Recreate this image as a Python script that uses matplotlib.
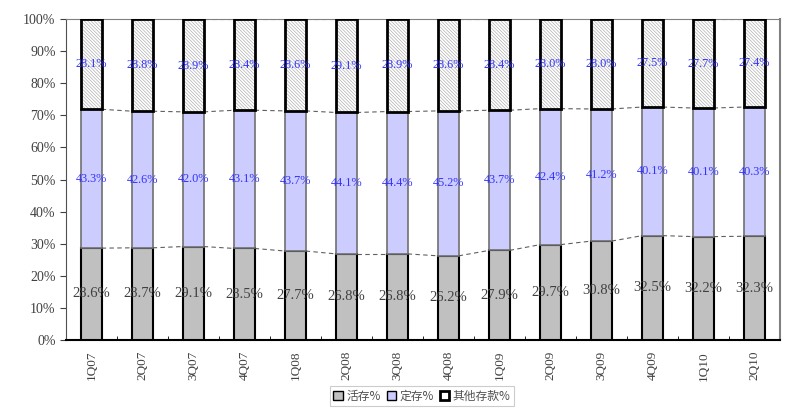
import numpy as np
import matplotlib
matplotlib.use('Agg')
import matplotlib.pyplot as plt
from matplotlib.patches import Patch
from matplotlib.ticker import FixedLocator, PercentFormatter

# data
quarters = ['1Q07', '2Q07', '3Q07', '4Q07', '1Q08', '2Q08', '3Q08',
            '4Q08', '1Q09', '2Q09', '3Q09', '4Q09', '1Q10', '2Q10']
demand = [28.6, 28.7, 29.1, 28.5, 27.7, 26.8, 26.8,
          26.2, 27.9, 29.7, 30.8, 32.5, 32.2, 32.3]
time_dep = [43.3, 42.6, 42.0, 43.1, 43.7, 44.1, 44.4,
            45.2, 43.7, 42.4, 41.2, 40.1, 40.1, 40.3]
other = [28.1, 28.8, 28.9, 28.4, 28.6, 29.1, 28.9,
         28.6, 28.4, 28.0, 28.0, 27.5, 27.7, 27.4]
names = ['活存%', '定存%', '其他存款%']

plt.rcParams['font.family'] = ['Liberation Serif', 'Noto Sans CJK SC', 'DejaVu Sans']
plt.rcParams['hatch.linewidth'] = 0.5

demand = np.array(demand)
time_dep = np.array(time_dep)
other = np.array(other)
x = np.arange(len(quarters))
w = 0.4

fig = plt.figure(figsize=(7.95, 4.17), dpi=100)
ax = fig.add_axes([0.083, 0.185, 0.898, 0.769])

# bars
ax.bar(x, demand, w, color='#C0C0C0', edgecolor='black', linewidth=1.5, zorder=3)
ax.bar(x, time_dep, w, bottom=demand, color='#CCCCFF', edgecolor='#707070',
       linewidth=1.2, zorder=3)
top_bottom = demand + time_dep
ax.bar(x, other, w, bottom=top_bottom, color='white', edgecolor='#B0B0B0',
       hatch='\\' * 10, linewidth=0, zorder=3)
ax.bar(x, other, w, bottom=top_bottom, fill=False, edgecolor='black',
       linewidth=2, zorder=4)

# series lines between bars
for level in [demand, top_bottom, top_bottom + other]:
    for i in range(len(x) - 1):
        ax.plot([x[i] + w / 2, x[i + 1] - w / 2], [level[i], level[i + 1]],
                color='#606060', lw=0.8, dashes=(4, 3), zorder=2)

# value labels
for i in range(len(x)):
    ax.text(x[i], demand[i] / 2, '%.1f%%' % demand[i], ha='center', va='center',
            fontsize=10.5, color='#404040', zorder=5)
    ax.text(x[i], demand[i] + time_dep[i] / 2, '%.1f%%' % time_dep[i],
            ha='center', va='center', fontsize=8.8, color='#3333FF', zorder=5)
    ax.text(x[i], top_bottom[i] + other[i] / 2, '%.1f%%' % other[i],
            ha='center', va='center', fontsize=8.8, color='#3333FF', zorder=5)

ax.set_xlim(-0.5, len(x) - 0.5)
ax.set_ylim(0, 100)
ax.set_yticks(np.arange(0, 101, 10))
ax.yaxis.set_major_formatter(PercentFormatter(decimals=0))
ax.tick_params(axis='y', direction='out', length=4, labelsize=10,
               labelcolor='#404040', color='#404040')
ax.set_xticks(x)
ax.set_xticklabels(quarters, rotation=90, fontsize=9.5, color='#404040')
ax.tick_params(axis='x', which='major', length=0, pad=8)
ax.xaxis.set_minor_locator(FixedLocator(np.arange(0.5, len(x) - 0.5, 1)))
ax.tick_params(axis='x', which='minor', direction='in', length=3, color='black')

ax.spines['left'].set_color('#505050')
ax.spines['bottom'].set_color('black')
ax.spines['bottom'].set_linewidth(1.5)
ax.spines['right'].set_color('#808080')
ax.spines['right'].set_linewidth(1.5)
ax.spines['top'].set_color('#808080')

handles = [Patch(facecolor='#C0C0C0', edgecolor='black', linewidth=1),
           Patch(facecolor='#CCCCFF', edgecolor='black', linewidth=1),
           Patch(facecolor='white', edgecolor='black', linewidth=2)]
leg = fig.legend(handles, names, loc='center', bbox_to_anchor=(0.531, 0.05),
                 ncol=3, fontsize=8.5, frameon=True, fancybox=False,
                 handlelength=0.8, handleheight=0.8, handletextpad=0.3,
                 columnspacing=0.5, borderpad=0.3, borderaxespad=0)
leg.get_frame().set_edgecolor('#C0C0C0')
leg.get_frame().set_linewidth(0.8)
for t in leg.get_texts():
    t.set_color('#505050')
    t.set_fontfamily(['Noto Sans CJK SC', 'DejaVu Sans'])

fig.savefig('out.png', dpi=100)
